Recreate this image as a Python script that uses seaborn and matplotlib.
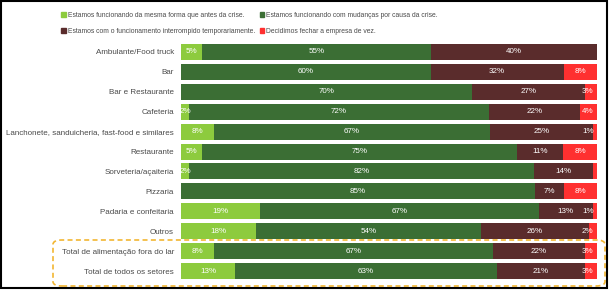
import matplotlib
matplotlib.use("Agg")
import matplotlib.pyplot as plt
import seaborn as sns
import pandas as pd
import numpy as np
from matplotlib.patches import FancyBboxPatch, Rectangle

# categorias e valores (%)
categorias = [
    "Ambulante/Food truck",
    "Bar",
    "Bar e Restaurante",
    "Cafeteria",
    "Lanchonete, sanduicheria, fast-food e similares",
    "Restaurante",
    "Sorveteria/açaiteria",
    "Pizzaria",
    "Padaria e confeitaria",
    "Outros",
    "Total de alimentação fora do lar",
    "Total de todos os setores",
]
mesma_forma = [5, 0, 0, 2, 8, 5, 2, 0, 19, 18, 8, 13]
com_mudancas = [55, 60, 70, 72, 67, 75, 82, 85, 67, 54, 67, 63]
interrompido = [40, 32, 27, 22, 25, 11, 14, 7, 13, 26, 22, 21]
fechar = [0, 8, 3, 4, 1, 8, 1, 8, 1, 2, 3, 3]

series_nomes = [
    "Estamos funcionando da mesma forma que antes da crise.",
    "Estamos funcionando com mudanças por causa da crise.",
    "Estamos com o funcionamento interrompido temporariamente.",
    "Decidimos fechar a empresa de vez.",
]
cores = ["#8DCB3E", "#3B6E34", "#5A2C2C", "#FF3030"]

sns.set_theme(style="white")
plt.rcParams["font.family"] = ["Liberation Sans", "DejaVu Sans"]

valores = np.array([mesma_forma, com_mudancas, interrompido, fechar], dtype=float)
# barras 100% empilhadas
pct = valores / valores.sum(axis=0) * 100
acum = np.cumsum(pct, axis=0)

fig = plt.figure(figsize=(6.09, 2.91), dpi=100)
ax = fig.add_axes([181 / 609, 0.034, (597 - 181) / 609, 0.822])

# desenha do maior acumulado para o menor
for i in range(3, -1, -1):
    df = pd.DataFrame({"cat": categorias, "acum": acum[i]})
    sns.barplot(data=df, x="acum", y="cat", orient="h", color=cores[i],
                saturation=1, width=0.8, linewidth=0, ax=ax)

# rótulos de dados
for i in range(4):
    for j, cat in enumerate(categorias):
        v = valores[i, j]
        if v <= 0:
            continue
        if cat == "Sorveteria/açaiteria" and i == 3:
            continue
        centro = min(acum[i, j] - pct[i, j] / 2, 97.8)
        ax.text(centro, j, f"{int(v)}%", ha="center", va="center",
                color="white", fontsize=5.8, clip_on=True)

ax.set_xlim(0, 100)
ax.set_ylim(11.5, -0.5)
ax.set_xlabel("")
ax.set_ylabel("")
ax.set_xticks([])
ax.tick_params(axis="y", length=0, pad=5, labelsize=5.8, labelcolor="#4a4a4a")
sns.despine(ax=ax, left=True, bottom=True)

# legenda (preenchida por linhas, como no original)
ordem = [0, 2, 1, 3]
handles = [Rectangle((0, 0), 1, 1, color=cores[k]) for k in ordem]
fig.legend(handles, [series_nomes[k] for k in ordem], ncol=2, loc="upper left",
           bbox_to_anchor=(55 / 609, 1 - 6 / 291), frameon=False,
           fontsize=4.85, handlelength=0.7, handleheight=0.7,
           handletextpad=0.3, columnspacing=0.7, labelspacing=1.35,
           labelcolor="#4a4a4a")

# caixa tracejada nos totais
caixa = FancyBboxPatch((53 / 609, 1 - 286 / 291), (605 - 53) / 609, 46 / 291,
                       boxstyle="round,pad=0,rounding_size=0.015",
                       transform=fig.transFigure, fill=False,
                       edgecolor="#F2B632", linestyle=(0, (3, 2)), linewidth=1.2)
fig.patches.append(caixa)

# moldura
moldura = Rectangle((1 / 609, 1 - 288 / 291), 606 / 609, 287 / 291,
                    transform=fig.transFigure, fill=False,
                    edgecolor="black", linewidth=1.5)
fig.patches.append(moldura)

fig.savefig("out.png", dpi=100)
